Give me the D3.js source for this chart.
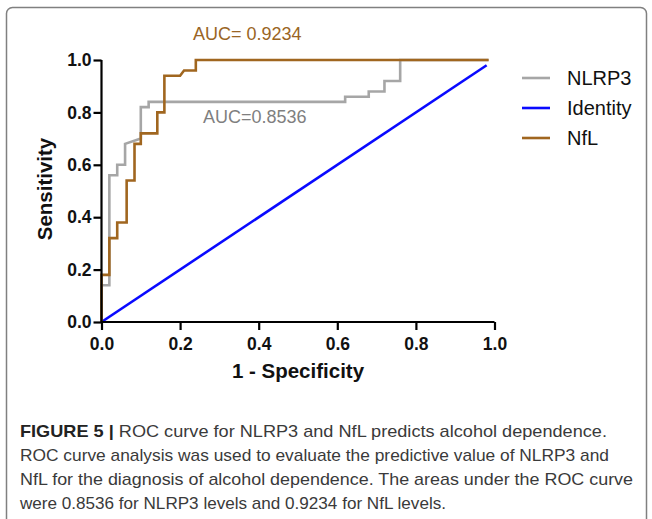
<!DOCTYPE html>
<html><head><meta charset="utf-8">
<script src="https://cdn.jsdelivr.net/npm/d3@7"></script>
<style>body{margin:0;background:#fff;}svg{display:block;}text{font-family:"Liberation Sans",Arial,sans-serif;}</style>
</head><body><svg id="c" width="652" height="519"></svg>
<script>
// ---- data ----
const nlrp3FPR  = [0,0,0.02,0.02,0.04,0.04,0.06,0.06,0.10,0.10,0.12,0.12,0.62,0.62,0.68,0.68,0.72,0.72,0.76,0.76,0.985];
const nlrp3Sens = [0,0.14,0.14,0.56,0.56,0.60,0.60,0.68,0.70,0.82,0.82,0.84,0.84,0.86,0.86,0.88,0.88,0.92,0.92,1.0,1.0];
const nflFPR  = [0,0,0.02,0.02,0.04,0.04,0.064,0.064,0.084,0.084,0.10,0.10,0.142,0.142,0.16,0.16,0.20,0.21,0.24,0.24,0.985];
const nflSens = [0,0.18,0.18,0.32,0.32,0.38,0.38,0.54,0.54,0.68,0.68,0.72,0.72,0.80,0.80,0.94,0.94,0.96,0.96,1.0,1.0];
const identityFPR  = [0,0.98];
const identitySens = [0,0.98];
const tickValues = [0,0.2,0.4,0.6,0.8,1.0];
const seriesNames = ["NLRP3","Identity","NfL"];
const seriesColors = ["#a6a6a6","#0a0aff","#a0661f"];
const aucLabels = ["AUC=0.8536","AUC= 0.9234"];
const captionBold = "FIGURE 5 |";
const captionLines = [
  " ROC curve for NLRP3 and NfL predicts alcohol dependence.",
  "ROC curve analysis was used to evaluate the predictive value of NLRP3 and",
  "NfL for the diagnosis of alcohol dependence. The areas under the ROC curve",
  "were 0.8536 for NLRP3 levels and 0.9234 for NfL levels."
];

const svg = d3.select("#c");
// frame
svg.append("rect").attr("x",6.5).attr("y",7.5).attr("width",640).attr("height",540)
  .attr("rx",6).attr("fill","#fff").attr("stroke","#808080").attr("stroke-width",1.5);

const x = d3.scaleLinear().domain([0,1]).range([101.5,494.5]);
const y = d3.scaleLinear().domain([0,1]).range([322,60]);

const line = d3.line().x(d=>x(d[0])).y(d=>y(d[1]));
const series = [
  d3.zip(nlrp3FPR,nlrp3Sens),
  d3.zip(identityFPR,identitySens),
  d3.zip(nflFPR,nflSens)
];
series.forEach((s,i)=>{
  svg.append("path").datum(s).attr("d",line).attr("fill","none")
    .attr("stroke",seriesColors[i]).attr("stroke-width",2.6).attr("stroke-linejoin","miter");
});

// axes
const fmt = d3.format(".1f");
const ga = svg.append("g").attr("transform","translate(101.5,0)")
  .call(d3.axisLeft(y).tickValues(tickValues).tickSize(8).tickPadding(2).tickFormat(fmt));
const gb = svg.append("g").attr("transform","translate(0,322)")
  .call(d3.axisBottom(x).tickValues(tickValues).tickSize(8).tickPadding(8).tickFormat(fmt));
[ga,gb].forEach(g=>{
  g.select(".domain").attr("stroke","#000").attr("stroke-width",2.2);
  g.selectAll(".tick line").attr("stroke","#000").attr("stroke-width",2.2);
  g.selectAll(".tick text").attr("fill","#111").attr("font-size",17.5).attr("font-weight","bold")
    .attr("font-family","'Liberation Sans',Arial,sans-serif");
});
ga.select(".domain").attr("d","M0,60V322");
gb.select(".domain").attr("d","M101.5,0H494.5");

svg.append("text").attr("x",298).attr("y",378).attr("text-anchor","middle")
  .attr("font-size",20.5).attr("font-weight","bold").attr("fill","#111").text("1 - Specificity");
svg.append("text").attr("transform","translate(52,189) rotate(-90)").attr("text-anchor","middle")
  .attr("font-size",20.5).attr("font-weight","bold").attr("fill","#111").text("Sensitivity");

// AUC labels
svg.append("text").attr("x",203).attr("y",123).attr("font-size",18).attr("fill","#7f7f7f").text(aucLabels[0]);
svg.append("text").attr("x",193).attr("y",40).attr("font-size",18).attr("fill","#9a6524").text(aucLabels[1]);

// legend
const lg = svg.append("g");
seriesNames.forEach((n,i)=>{
  const yy = 78 + i*30;
  lg.append("line").attr("x1",522).attr("x2",550).attr("y1",yy).attr("y2",yy)
    .attr("stroke",seriesColors[i]).attr("stroke-width",2.6);
  lg.append("text").attr("x",567).attr("y",yy+7).attr("font-size",20).attr("fill","#111").text(n);
});

// caption
const capEnds = [607,609,633,446];
captionLines.forEach((t,i)=>{
  const tx = svg.append("text").attr("x",20).attr("y",437+i*24).attr("font-size",17).attr("fill","#3a3a3a");
  if(i===0){
    tx.append("tspan").attr("font-weight","bold").attr("fill","#222").text(captionBold);
    tx.append("tspan").text(t);
  } else tx.text(t);
  tx.attr("textLength",capEnds[i]-20).attr("lengthAdjust","spacingAndGlyphs");
});
</script></body></html>
